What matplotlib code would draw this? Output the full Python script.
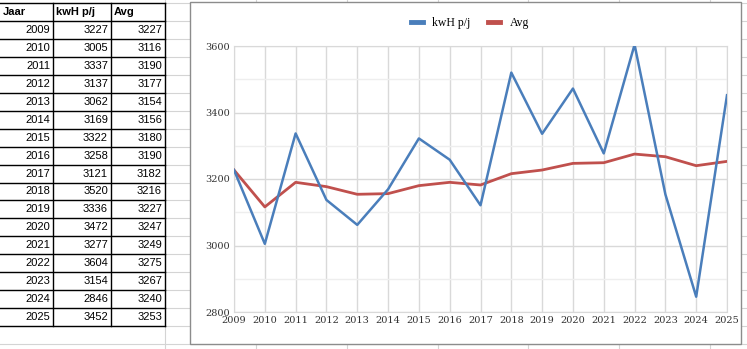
import matplotlib
matplotlib.use("Agg")
import matplotlib.pyplot as plt
from matplotlib.lines import Line2D

years = [2009, 2010, 2011, 2012, 2013, 2014, 2015, 2016, 2017,
         2018, 2019, 2020, 2021, 2022, 2023, 2024, 2025]
kwh = [3227, 3005, 3337, 3137, 3062, 3169, 3322, 3258, 3121,
       3520, 3336, 3472, 3277, 3604, 3154, 2846, 3452]
avg = [3227, 3116, 3190, 3177, 3154, 3156, 3180, 3190, 3182,
       3216, 3227, 3247, 3249, 3275, 3267, 3240, 3253]
headers = ["Jaar", "kwH p/j", "Avg"]
yticks = [2800, 3000, 3200, 3400, 3600]

W, H = 747, 349
fig = plt.figure(figsize=(W / 100, H / 100), dpi=100)
bg = fig.add_axes([0, 0, 1, 1])
bg.set_xlim(0, W)
bg.set_ylim(H, 0)
bg.axis("off")

# spreadsheet faint grid
faint = "#d4d4d4"
row_top = 3
row_h = 17.95
col_x = [0, 53, 111, 165]
for x in [165, 256, 347, 438, 528, 619, 710]:
    bg.plot([x, x], [0, H], color=faint, lw=0.8, zorder=0)
for i in range(20):
    y = row_top + i * row_h
    bg.plot([0, W], [y, y], color=faint, lw=0.8, zorder=0)

# table
nrows = len(years) + 1
tb = row_top + nrows * row_h
for i in range(nrows + 1):
    y = row_top + i * row_h
    bg.plot([0, col_x[-1]], [y, y], color="black", lw=1.0, zorder=2)
for x in col_x[1:]:
    bg.plot([x, x], [row_top, tb], color="black", lw=1.0, zorder=2)
tf = "Liberation Sans"
for j, h in enumerate(headers):
    bg.text(col_x[j] + 3, row_top + row_h / 2, h, fontsize=8, fontweight="bold",
            family=tf, va="center", ha="left", zorder=3)
for i, (yr, k, a) in enumerate(zip(years, kwh, avg)):
    yc = row_top + (i + 1) * row_h + row_h / 2
    for j, v in enumerate([yr, k, a]):
        bg.text(col_x[j + 1] - 3, yc, str(v), fontsize=8, family=tf,
                va="center", ha="right", zorder=3)

# chart area
cl, cr, ct, cb = 190, 741, 2, 344
bg.add_patch(plt.Rectangle((cl, ct), cr - cl, cb - ct, facecolor="white",
                           edgecolor="#8c8c8c", lw=1.0, zorder=4))

pl, pr, pt, pb = 234, 727, 46, 312
ax = fig.add_axes([pl / W, 1 - pb / H, (pr - pl) / W, (pb - pt) / H])
ax.set_zorder(5)
ax.patch.set_alpha(0)
blue = "#4a7ebb"
red = "#c0504d"
ax.plot(years, avg, color=red, lw=2.0, zorder=3, clip_on=True)
ax.plot(years, kwh, color=blue, lw=1.8, zorder=4, clip_on=True)
ax.set_xlim(years[0], years[-1])
ax.set_ylim(yticks[0], yticks[-1])
ax.set_xticks(years)
ax.set_yticks(yticks)
ax.set_yticks([v + 100 for v in yticks[:-1]], minor=True)
ax.grid(True, which="major", axis="both", color="#d9d9d9", lw=1.0)
ax.grid(True, which="minor", axis="y", color="#eeeeee", lw=1.0)
ax.set_axisbelow(True)
for s in ax.spines.values():
    s.set_color("#d9d9d9")
ax.tick_params(which="both", length=0, labelsize=7.5, colors="#333333", pad=3)
for lab in ax.get_xticklabels() + ax.get_yticklabels():
    lab.set_family("DejaVu Serif")
    lab.set_fontsize(7)

handles = [Line2D([0], [0], color=blue, lw=3.5),
           Line2D([0], [0], color=red, lw=3.5)]
fig.legend(handles, ["kwH p/j", "Avg"], loc="center",
           bbox_to_anchor=((420 + 520) / 2 / W, 1 - 23 / H), ncol=2,
           frameon=False, handlelength=1.0, columnspacing=1.5,
           prop={"family": "Liberation Serif", "size": 8.5})

fig.savefig("out.png", dpi=100)
